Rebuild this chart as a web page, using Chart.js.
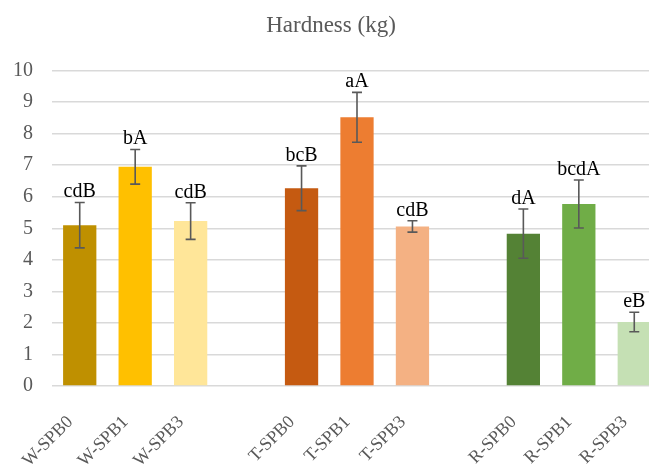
<!DOCTYPE html>
<html>
<head>
<meta charset="utf-8">
<script src="https://cdn.jsdelivr.net/npm/chart.js@4.4.0/dist/chart.umd.min.js"></script>
<style>
  body { margin: 0; overflow: hidden; background: #fff; }
  #wrap { width: 680px; height: 465px; }
</style>
</head>
<body>
<div id="wrap"><canvas id="Chart"></canvas></div>
<script>
// blank labels make the gaps between the W, T and R groups
let samples = ['W-SPB0','W-SPB1','W-SPB3','','T-SPB0','T-SPB1','T-SPB3','','R-SPB0','R-SPB1','R-SPB3'];
let hardness = [5.1, 6.95, 5.23, null, 6.27, 8.52, 5.06, null, 4.83, 5.77, 2.03];
let errors = [0.72, 0.55, 0.58, null, 0.71, 0.79, 0.18, null, 0.78, 0.76, 0.31];
let letters = ['cdB','bA','cdB','','bcB','aA','cdB','','dA','bcdA','eB'];
let colors = ['#BF9000','#FFC000','#FFE699', null, '#C55A11','#ED7D31','#F4B183', null, '#548235','#70AD47','#C5E0B4'];
let yTicks = [0,1,2,3,4,5,6,7,8,9,10];

let serif = "'Liberation Serif', 'Times New Roman', serif";

let errorBars = {
    id: 'errorBars',
    afterDatasetsDraw(chart) {
        let ctx = chart.ctx;
        let y = chart.scales.y;
        let bars = chart.getDatasetMeta(0).data;
        ctx.save();
        for (let i = 0; i < hardness.length; i++) {
            if (hardness[i] == null) continue;
            let x = bars[i].x;
            let top = y.getPixelForValue(hardness[i] + errors[i]);
            let bot = y.getPixelForValue(hardness[i] - errors[i]);
            ctx.strokeStyle = '#595959';
            ctx.lineWidth = 1.6;
            ctx.beginPath();
            ctx.moveTo(x, top); ctx.lineTo(x, bot);
            ctx.moveTo(x - 5, top); ctx.lineTo(x + 5, top);
            ctx.moveTo(x - 5, bot); ctx.lineTo(x + 5, bot);
            ctx.stroke();
            ctx.fillStyle = '#000';
            ctx.font = '20px ' + serif;
            ctx.textAlign = 'center';
            ctx.textBaseline = 'alphabetic';
            ctx.fillText(letters[i], x, top - 5);
        }
        ctx.restore();
    }
};

let graph = document.getElementById('Chart');

let chartData = {
    type: 'bar',
    data: {
        labels: samples,
        datasets: [{
            label: 'Hardness (kg)',
            data: hardness,
            backgroundColor: colors,
            barPercentage: 0.6,
            categoryPercentage: 1
        }]
    },
    options: {
        responsive: true,
        maintainAspectRatio: false,
        animation: false,
        layout: { padding: { top: 0, right: 18, left: 0, bottom: 0 } },
        plugins: {
            legend: { display: false },
            tooltip: { enabled: false },
            title: {
                display: true,
                text: 'Hardness (kg)',
                color: '#595959',
                font: { family: serif, size: 23, weight: 'normal' },
                padding: { top: 12, bottom: 31 }
            }
        },
        scales: {
            x: {
                grid: { display: false },
                border: { display: false },
                ticks: {
                    color: '#595959',
                    font: { family: serif, size: 18 },
                    maxRotation: 45,
                    minRotation: 45,
                    autoSkip: false,
                    padding: 8,
                    // trailing spaces push the slanted text down-left, like the original
                    callback(v, i) { return samples[i] ? samples[i] + '   ' : ''; }
                },
                afterFit(s) { s.height = 79; }
            },
            y: {
                min: 0,
                max: 10,
                afterBuildTicks(s) { s.ticks = yTicks.map(v => ({ value: v })); },
                grid: { color: '#d9d9d9', lineWidth: 1.5, drawTicks: false },
                border: { display: false },
                ticks: {
                    color: '#595959',
                    font: { family: serif, size: 20 },
                    padding: 19
                },
                afterFit(s) { s.width = 52; }
            }
        }
    },
    plugins: [errorBars]
};

let presentdata = new Chart(graph, chartData);
</script>
</body>
</html>
